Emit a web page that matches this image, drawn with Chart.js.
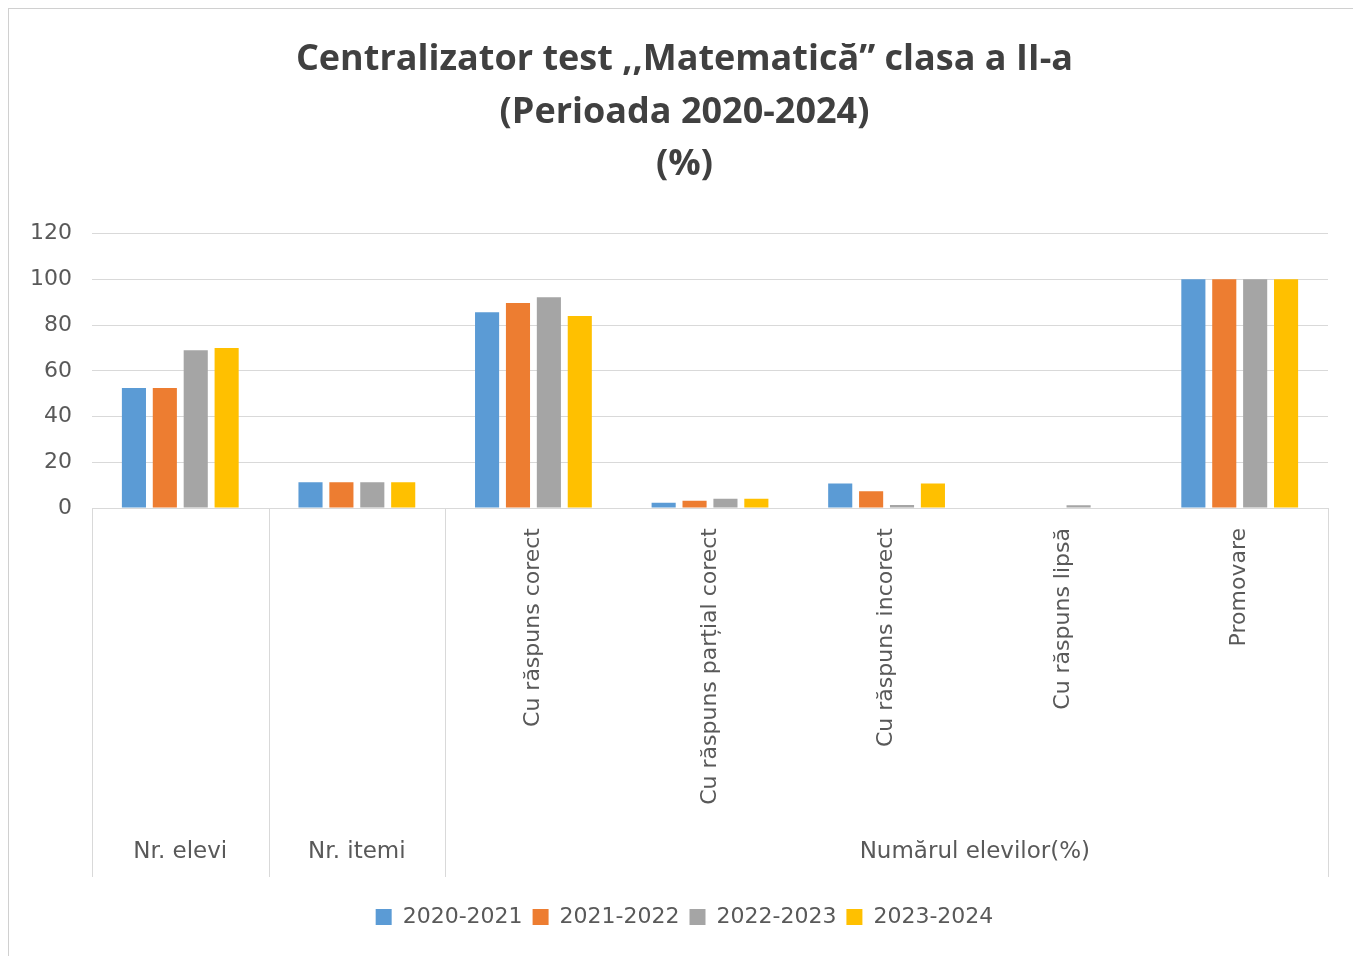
<!DOCTYPE html>
<html>
<head>
<meta charset="utf-8">
<script src="https://cdn.jsdelivr.net/npm/chart.js@4"></script>
<style>
  html, body { margin: 0; padding: 0; background: #fff; overflow: hidden; }
  #frame {
    position: absolute; left: 8px; top: 8px;
    width: 1370px; height: 970px;
    border: 1px solid #d0d0d0; box-sizing: border-box;
  }
  #wrap { position: absolute; left: 0; top: 0; width: 1351px; height: 929px; }
</style>
</head>
<body>
<div id="frame"><div id="wrap"><canvas id="chart"></canvas></div></div>
<script>
// Date
const categories = ['', '', 'Cu răspuns corect', 'Cu răspuns parțial corect', 'Cu răspuns incorect', 'Cu răspuns lipsă', 'Promovare'];
const groupLabels = ['Nr. elevi', 'Nr. itemi', 'Numărul elevilor(%)'];
const seriesNames = ['2020-2021', '2021-2022', '2022-2023', '2023-2024'];
const values2020 = [52.5, 11.3, 85.6, 2.3, 10.7, 0, 100];
const values2021 = [52.5, 11.3, 89.7, 3.2, 7.3, 0, 100];
const values2022 = [69, 11.3, 92.2, 4, 1.3, 1.2, 100];
const values2023 = [70, 11.3, 84, 4, 10.7, 0, 100];
const yTicks = [0, 20, 40, 60, 80, 100, 120];

const colors = ['#5B9BD5', '#ED7D31', '#A5A5A5', '#FFC000'];
const allValues = [values2020, values2021, values2022, values2023];

const textColor = '#595959';
const gridColor = '#d9d9d9';
const font = 'DejaVu Sans, sans-serif';

const X_AXIS_HEIGHT = 388;
const SEP_LEN = 369;

// separatoare verticale si etichetele de grup (axa pe doua niveluri, ca in Excel)
const groupAxis = {
    id: 'groupAxis',
    afterDraw(chart) {
        const x = chart.scales.x;
        const ctx = chart.ctx;
        const top = chart.chartArea.bottom;
        const half = (x.getPixelForValue(1) - x.getPixelForValue(0)) / 2;
        const edge = i => x.getPixelForValue(i) - half;

        ctx.save();
        ctx.strokeStyle = gridColor;
        ctx.lineWidth = 1;
        [0, 1, 2, categories.length].forEach(i => {
            const px = Math.round(edge(i)) + 0.5;
            ctx.beginPath();
            ctx.moveTo(px, top);
            ctx.lineTo(px, top + SEP_LEN);
            ctx.stroke();
        });

        ctx.fillStyle = textColor;
        ctx.font = '23px ' + font;
        ctx.textAlign = 'center';
        ctx.textBaseline = 'middle';
        const ly = top + 344;
        ctx.fillText(groupLabels[0], x.getPixelForValue(0), ly);
        ctx.fillText(groupLabels[1], x.getPixelForValue(1), ly);
        ctx.fillText(groupLabels[2], (x.getPixelForValue(4) + x.getPixelForValue(5)) / 2, ly);
        ctx.restore();
    }
};

const ctx = document.getElementById('chart').getContext('2d');
new Chart(ctx, {
    type: 'bar',
    data: {
        labels: categories,
        datasets: seriesNames.map((name, i) => ({
            label: name,
            data: allValues[i],
            backgroundColor: colors[i],
            borderWidth: 0,
            categoryPercentage: 0.7,
            barPercentage: 0.78
        }))
    },
    options: {
        responsive: true,
        maintainAspectRatio: false,
        animation: false,
        layout: { padding: 0 },
        plugins: {
            title: {
                display: true,
                text: ['Centralizator test ,,Matematică” clasa a II-a', '(Perioada 2020-2024)', '(%)'],
                color: '#404040',
                font: { family: 'Open Sans, sans-serif', size: 36, weight: 'bold', lineHeight: 1.45 },
                padding: { top: 25, bottom: 43 }
            },
            legend: {
                position: 'bottom',
                labels: {
                    color: textColor,
                    font: { family: font, size: 22 },
                    boxWidth: 16,
                    boxHeight: 16,
                    padding: 10
                }
            },
            tooltip: { enabled: false }
        },
        scales: {
            x: {
                grid: { display: false, drawTicks: false },
                border: { display: false },
                ticks: {
                    color: textColor,
                    font: { family: font, size: 22 },
                    minRotation: 90,
                    maxRotation: 90,
                    padding: 20,
                    autoSkip: false
                },
                afterFit(scale) { scale.height = X_AXIS_HEIGHT; }
            },
            y: {
                min: 0,
                max: 120,
                afterBuildTicks(scale) { scale.ticks = yTicks.map(v => ({ value: v })); },
                grid: { color: gridColor, drawTicks: false },
                border: { display: false },
                ticks: {
                    color: textColor,
                    font: { family: font, size: 22 },
                    padding: 20
                },
                afterFit(scale) { scale.width = 83; }
            },
            // spatiu gol in dreapta, ca titlul si legenda sa ramana centrate pe tot graficul
            yRight: {
                position: 'right',
                min: 0,
                max: 120,
                grid: { display: false, drawTicks: false },
                border: { display: false },
                ticks: { display: false },
                afterFit(scale) { scale.width = 32; }
            }
        }
    },
    plugins: [groupAxis]
});
</script>
</body>
</html>
